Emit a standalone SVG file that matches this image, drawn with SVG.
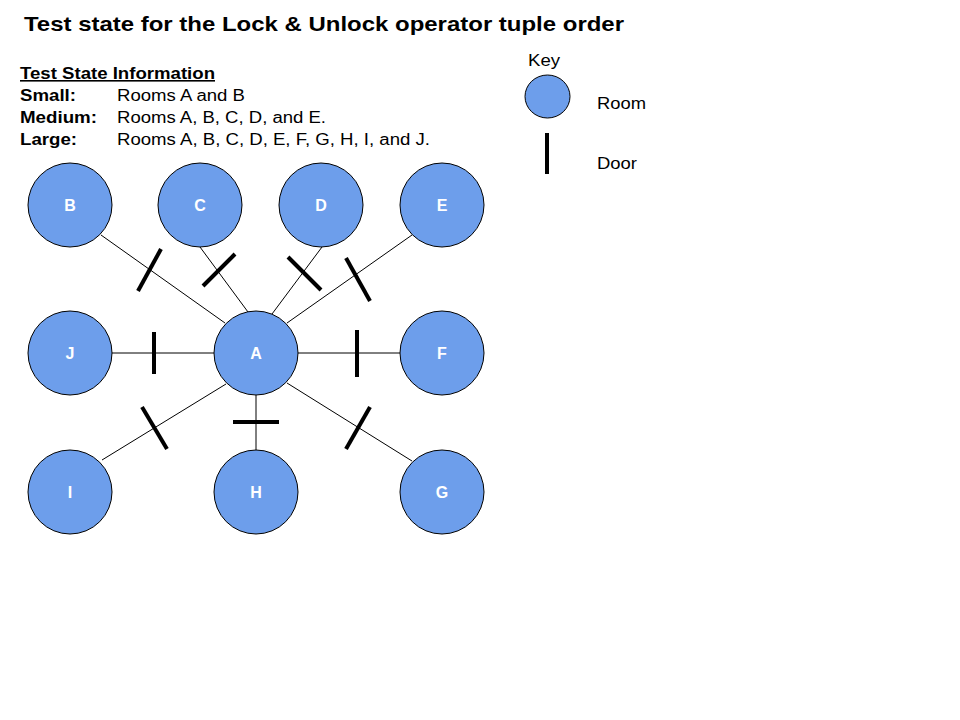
<svg xmlns="http://www.w3.org/2000/svg" width="960" height="720" viewBox="0 0 960 720">
<style>
text{font-family:"Liberation Sans",Arial,sans-serif;fill:#000}
.room{fill:#6d9eeb;stroke:#000;stroke-width:1}
.lbl{fill:#fff;font-weight:bold;font-size:16px;text-anchor:middle}
.edge{stroke:#000;stroke-width:1;fill:none}
.door{stroke:#000;stroke-width:4;fill:none}
.info{font-size:16px}
</style>
<rect width="960" height="720" fill="#fff"/>
<text x="24" y="31" font-size="20.5" font-weight="bold" textLength="600" lengthAdjust="spacingAndGlyphs">Test state for the Lock &amp; Unlock operator tuple order</text>
<g id="info" class="info">
<text x="20" y="79" font-weight="bold" text-decoration="underline" textLength="195" lengthAdjust="spacingAndGlyphs">Test State Information</text>
<text x="20" y="101" font-weight="bold" textLength="56" lengthAdjust="spacingAndGlyphs">Small:</text>
<text x="117" y="101" textLength="128" lengthAdjust="spacingAndGlyphs">Rooms A and B</text>
<text x="20" y="123" font-weight="bold" textLength="77" lengthAdjust="spacingAndGlyphs">Medium:</text>
<text x="117" y="123" textLength="209" lengthAdjust="spacingAndGlyphs">Rooms A, B, C, D, and E.</text>
<text x="20" y="145" font-weight="bold" textLength="57" lengthAdjust="spacingAndGlyphs">Large:</text>
<text x="117" y="145" textLength="313" lengthAdjust="spacingAndGlyphs">Rooms A, B, C, D, E, F, G, H, I, and J.</text>
</g>
<g id="key">
<text x="528" y="66" font-size="16" textLength="32" lengthAdjust="spacingAndGlyphs">Key</text>
<ellipse class="room" cx="547.5" cy="96.5" rx="22.5" ry="21.5"/>
<text x="597" y="109" font-size="16" textLength="49" lengthAdjust="spacingAndGlyphs">Room</text>
<line class="door" x1="547" y1="133" x2="547" y2="174"/>
<text x="597" y="169" font-size="16" textLength="40" lengthAdjust="spacingAndGlyphs">Door</text>
</g>
<g id="connectors">
<line class="edge" x1="101" y1="235" x2="225" y2="323"/>
<line class="edge" x1="200" y1="247" x2="248" y2="312"/>
<line class="edge" x1="322" y1="247" x2="272" y2="314"/>
<line class="edge" x1="412" y1="235" x2="287" y2="323"/>
<line class="edge" x1="112" y1="353" x2="214" y2="353"/>
<line class="edge" x1="298" y1="353" x2="400" y2="353"/>
<line class="edge" x1="226" y1="384" x2="102" y2="460"/>
<line class="edge" x1="256" y1="395" x2="256" y2="450"/>
<line class="edge" x1="287" y1="383" x2="412" y2="461"/>
</g>
<g id="doors">
<line class="door" x1="161" y1="249" x2="138" y2="291"/>
<line class="door" x1="235" y1="254" x2="203" y2="286"/>
<line class="door" x1="288" y1="257" x2="321" y2="290"/>
<line class="door" x1="346" y1="258" x2="370" y2="301"/>
<line class="door" x1="154" y1="332" x2="154" y2="374"/>
<line class="door" x1="357" y1="330" x2="357" y2="377"/>
<line class="door" x1="142" y1="407" x2="167" y2="449"/>
<line class="door" x1="233" y1="422" x2="279" y2="422"/>
<line class="door" x1="370" y1="407" x2="346" y2="449"/>
</g>
<g id="room-B"><circle class="room" cx="70" cy="205" r="42"/><text class="lbl" x="70" y="211">B</text></g>
<g id="room-C"><circle class="room" cx="200" cy="205" r="42"/><text class="lbl" x="200" y="211">C</text></g>
<g id="room-D"><circle class="room" cx="321" cy="205" r="42"/><text class="lbl" x="321" y="211">D</text></g>
<g id="room-E"><circle class="room" cx="442" cy="205" r="42"/><text class="lbl" x="442" y="211">E</text></g>
<g id="room-J"><circle class="room" cx="70" cy="353" r="42"/><text class="lbl" x="70" y="359">J</text></g>
<g id="room-A"><circle class="room" cx="256" cy="353" r="42"/><text class="lbl" x="256" y="359">A</text></g>
<g id="room-F"><circle class="room" cx="442" cy="353" r="42"/><text class="lbl" x="442" y="359">F</text></g>
<g id="room-I"><circle class="room" cx="70" cy="492" r="42"/><text class="lbl" x="70" y="498">I</text></g>
<g id="room-H"><circle class="room" cx="256" cy="492" r="42"/><text class="lbl" x="256" y="498">H</text></g>
<g id="room-G"><circle class="room" cx="442" cy="492" r="42"/><text class="lbl" x="442" y="498">G</text></g>
</svg>
